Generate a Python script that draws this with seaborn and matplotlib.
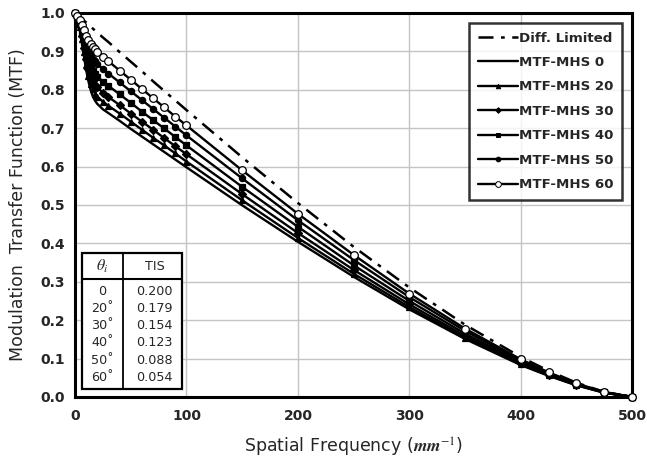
import matplotlib
matplotlib.use("Agg")
import matplotlib.pyplot as plt
import seaborn as sns
import pandas as pd
from matplotlib.patches import Rectangle
from matplotlib.lines import Line2D

# ---------------- data ----------------
x_freq = [0, 2, 4, 6, 8, 10, 12, 14, 16, 18, 20, 25, 30, 40, 50, 60, 70, 80, 90, 100,
          150, 200, 250, 300, 350, 400, 425, 450, 475, 500]

diff_limited = [1.0, 0.995, 0.990, 0.985, 0.980, 0.975, 0.969, 0.964, 0.959, 0.954, 0.949,
                0.936, 0.924, 0.898, 0.873, 0.848, 0.822, 0.797, 0.772, 0.747,
                0.624, 0.505, 0.391, 0.285, 0.188, 0.104, 0.068, 0.037, 0.013, 0.0]
mhs0 = [1.0, 0.987, 0.961, 0.925, 0.887, 0.851, 0.822, 0.799, 0.782, 0.771, 0.763,
        0.749, 0.739, 0.719, 0.698, 0.678, 0.658, 0.638, 0.618, 0.598,
        0.499, 0.404, 0.313, 0.228, 0.151, 0.083, 0.055, 0.030, 0.011, 0.0]
mhs20 = [1.0, 0.988, 0.964, 0.931, 0.897, 0.864, 0.837, 0.816, 0.801, 0.790, 0.782,
         0.769, 0.758, 0.738, 0.717, 0.696, 0.675, 0.655, 0.634, 0.613,
         0.512, 0.414, 0.321, 0.234, 0.154, 0.085, 0.056, 0.031, 0.011, 0.0]
mhs30 = [1.0, 0.989, 0.967, 0.939, 0.908, 0.880, 0.855, 0.837, 0.823, 0.813, 0.806,
         0.792, 0.781, 0.760, 0.738, 0.717, 0.696, 0.674, 0.653, 0.632,
         0.528, 0.427, 0.331, 0.241, 0.159, 0.088, 0.058, 0.032, 0.011, 0.0]
mhs40 = [1.0, 0.990, 0.972, 0.948, 0.923, 0.899, 0.878, 0.863, 0.850, 0.841, 0.834,
         0.821, 0.810, 0.788, 0.766, 0.743, 0.721, 0.699, 0.677, 0.655,
         0.547, 0.443, 0.343, 0.250, 0.165, 0.091, 0.060, 0.033, 0.012, 0.0]
mhs50 = [1.0, 0.991, 0.977, 0.959, 0.939, 0.920, 0.904, 0.892, 0.881, 0.874, 0.867,
         0.854, 0.842, 0.819, 0.796, 0.773, 0.750, 0.727, 0.704, 0.681,
         0.569, 0.460, 0.357, 0.260, 0.172, 0.095, 0.062, 0.034, 0.012, 0.0]
mhs60 = [1.0, 0.993, 0.982, 0.969, 0.955, 0.941, 0.929, 0.920, 0.911, 0.905, 0.899,
         0.886, 0.874, 0.850, 0.826, 0.802, 0.778, 0.754, 0.730, 0.707,
         0.590, 0.477, 0.370, 0.269, 0.178, 0.098, 0.064, 0.035, 0.013, 0.0]

series_labels = ["Diff. Limited", "MTF-MHS 0", "MTF-MHS 20", "MTF-MHS 30",
                 "MTF-MHS 40", "MTF-MHS 50", "MTF-MHS 60"]

table_theta = ["0", "20˚", "30˚", "40˚", "50˚", "60˚"]
table_tis = [0.200, 0.179, 0.154, 0.123, 0.088, 0.054]

x_ticks = [0, 100, 200, 300, 400, 500]
y_ticks = [0.0, 0.1, 0.2, 0.3, 0.4, 0.5, 0.6, 0.7, 0.8, 0.9, 1.0]

# ---------------- styling ----------------
sns.set_style("white")
plt.rcParams["font.family"] = ["DejaVu Sans"]
plt.rcParams["mathtext.fontset"] = "stix"

fig = plt.figure(figsize=(6.47, 4.61), dpi=100)
ax = fig.add_axes([0.116, 0.139, 0.861, 0.833])

styles = [
    dict(marker=None, linestyle=(0, (6, 3, 1.5, 3)), lw=1.8),
    dict(marker=None, linestyle="-", lw=1.7),
    dict(marker="^", ms=4.3, mfc="black", linestyle="-", lw=1.7),
    dict(marker="D", ms=3.8, mfc="black", linestyle="-", lw=1.7),
    dict(marker="s", ms=4.0, mfc="black", linestyle="-", lw=1.7),
    dict(marker="o", ms=4.5, mfc="black", linestyle="-", lw=1.7),
    dict(marker="o", ms=5.5, mfc="white", linestyle="-", lw=1.7),
]
all_series = [diff_limited, mhs0, mhs20, mhs30, mhs40, mhs50, mhs60]

handles = []
for lab, vals, st in zip(series_labels, all_series, styles):
    df = pd.DataFrame({"freq": x_freq, "mtf": vals})
    kw = dict(color="black", linestyle=st["linestyle"], linewidth=st["lw"], clip_on=False)
    if st["marker"] is not None:
        kw.update(marker=st["marker"], markersize=st["ms"], markerfacecolor=st["mfc"],
                  markeredgecolor="black", markeredgewidth=0.9)
    sns.lineplot(data=df, x="freq", y="mtf", ax=ax, legend=False, zorder=3, **kw)
    hk = dict(color="black", linestyle=st["linestyle"], linewidth=st["lw"])
    if st["marker"] is not None:
        hk.update(marker=st["marker"], markersize=st["ms"] * 0.75, markerfacecolor=st["mfc"],
                  markeredgecolor="black", markeredgewidth=0.7)
    handles.append(Line2D([], [], **hk))

ax.set_xlim(0, 500)
ax.set_ylim(0, 1.0)
ax.set_xticks(x_ticks)
ax.set_yticks(y_ticks)
ax.set_xticklabels([str(t) for t in x_ticks], fontweight="bold", fontsize=10)
ax.set_yticklabels([f"{t:.1f}" for t in y_ticks], fontweight="bold", fontsize=10)
ax.tick_params(axis="y", length=0, pad=7)
ax.tick_params(axis="x", length=0, pad=9)
ax.grid(True, color="#c4c4c4", lw=1.0)
ax.set_axisbelow(True)
for sp in ax.spines.values():
    sp.set_color("black")
    sp.set_linewidth(2.2)

ax.set_xlabel("Spatial Frequency ($\\mathbfit{mm}^{-1}$)", fontsize=12.5, labelpad=9)
ax.set_ylabel("Modulation  Transfer Function (MTF)", fontsize=12.5, labelpad=10)

leg = ax.legend(handles, series_labels, loc="upper right", bbox_to_anchor=(0.982, 0.974),
                borderaxespad=0, frameon=True, fancybox=False, handlelength=3.0,
                handletextpad=0.1, labelspacing=0.86, borderpad=0.65,
                prop=dict(weight="bold", size=9.6))
leg.get_frame().set_edgecolor("black")
leg.get_frame().set_linewidth(1.8)

# ---------------- TIS table ----------------
tx0, tx1, tdiv = 0.0126, 0.192, 0.086
ty0, ty1, thead = 0.020, 0.374, 0.307
ax.add_patch(Rectangle((tx0, ty0), tx1 - tx0, ty1 - ty0, transform=ax.transAxes,
                       facecolor="white", edgecolor="black", lw=1.6, zorder=5))
ax.plot([tx0, tx1], [thead, thead], transform=ax.transAxes, color="black", lw=1.5, zorder=6)
ax.plot([tdiv, tdiv], [ty0, ty1], transform=ax.transAxes, color="black", lw=1.3, zorder=6)
cx1 = (tx0 + tdiv) / 2
cx2 = (tdiv + tx1) / 2 + 0.004
hy = (thead + ty1) / 2
ax.text(cx1, hy, "$\\theta_i$", transform=ax.transAxes, ha="center", va="center",
        fontsize=11.5, zorder=7)
ax.text(cx2, hy, "TIS", transform=ax.transAxes, ha="center", va="center",
        fontsize=9.2, zorder=7)
row_top = 0.274
row_step = 0.0445
for i, (th, tv) in enumerate(zip(table_theta, table_tis)):
    yy = row_top - i * row_step
    ax.text(cx1, yy, th, transform=ax.transAxes, ha="center", va="center",
            fontsize=9.2, zorder=7)
    ax.text(cx2, yy, f"{tv:.3f}", transform=ax.transAxes, ha="center", va="center",
            fontsize=9.2, zorder=7)

fig.savefig("out.png", dpi=100)
